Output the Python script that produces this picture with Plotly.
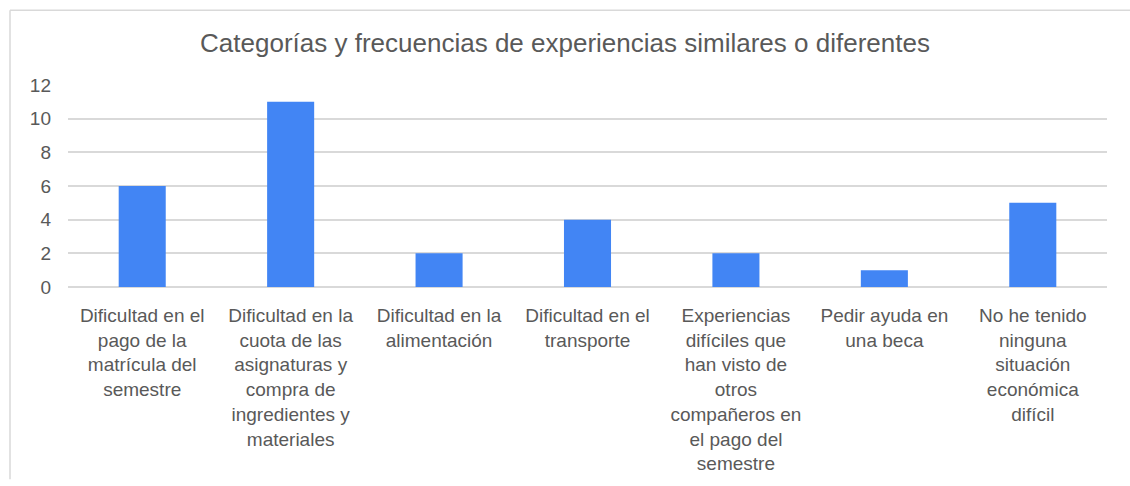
import plotly.graph_objects as go

title_text = "Categorías y frecuencias de experiencias similares o diferentes"
categories = [
    "Dificultad en el<br>pago de la<br>matrícula del<br>semestre",
    "Dificultad en la<br>cuota de las<br>asignaturas y<br>compra de<br>ingredientes y<br>materiales",
    "Dificultad en la<br>alimentación",
    "Dificultad en el<br>transporte",
    "Experiencias<br>difíciles que<br>han visto de<br>otros<br>compañeros en<br>el pago del<br>semestre",
    "Pedir ayuda en<br>una beca",
    "No he tenido<br>ninguna<br>situación<br>económica<br>difícil",
]
values = [6, 11, 2, 4, 2, 1, 5]
y_ticks = [0, 2, 4, 6, 8, 10, 12]

W, H = 1130, 486
ML, MR, MT, MB = 68, 23, 85, 193
PW, PH = W - ML - MR, H - MT - MB

def px_x(p):
    return (p - ML) / PW

def px_y(p):
    return (H - MB - p) / PH

fig = go.Figure(
    go.Bar(x=categories, y=values, marker=dict(color="#4285F4", line=dict(width=0)))
)

border = "#d9d9d9"
fig.add_shape(type="line", xref="paper", yref="paper",
              x0=px_x(10), x1=px_x(10), y0=px_y(8), y1=px_y(H + 5),
              line=dict(color=border, width=1.5))
fig.add_shape(type="line", xref="paper", yref="paper",
              x0=px_x(10), x1=px_x(W + 5), y0=px_y(8), y1=px_y(8),
              line=dict(color=border, width=1.5))

fig.update_layout(
    width=W, height=H,
    margin=dict(l=ML, r=MR, t=MT, b=MB),
    paper_bgcolor="white", plot_bgcolor="white",
    bargap=0.683,
    showlegend=False,
    font=dict(family="Liberation Sans, Arial, sans-serif", color="#595959", size=19),
    title=dict(text=title_text, x=0.5, xanchor="center", y=1 - 43 / H, yanchor="middle",
               font=dict(size=26, color="#595959")),
)
fig.update_xaxes(showgrid=False, showline=False, ticks="", tickangle=0,
                 ticklabelstandoff=15, tickfont=dict(size=19, color="#595959"))
fig.update_yaxes(range=[0, 12], tickvals=y_ticks, showgrid=True, gridcolor=border,
                 gridwidth=1.5, zeroline=True, zerolinecolor=border, zerolinewidth=1.5,
                 showline=False, ticks="", ticklabelstandoff=16,
                 tickfont=dict(size=19, color="#595959"))

fig.write_html(
    "out.html",
    config={"displayModeBar": False},
    post_script="document.body.style.margin='0';document.body.style.overflow='hidden';",
)
